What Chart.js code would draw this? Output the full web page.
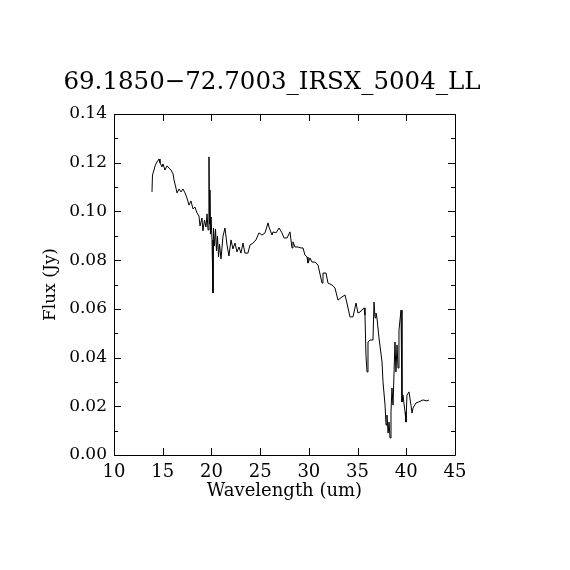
<!DOCTYPE html>
<html lang="en">
<head>
<meta charset="UTF-8">
<title>69.1850-72.7003_IRSX_5004_LL</title>
<script src="https://cdn.jsdelivr.net/npm/chart.js"></script>
<style>
  html, body { margin: 0; padding: 0; background: #fff; }
  #wrap { width: 570px; height: 570px; }
</style>
</head>
<body>
<div id="wrap"><canvas id="spec" width="570" height="570"></canvas></div>
<script>
// spectrum
var wavelength = [
  13.90, 13.95, 14.11, 14.21, 14.41, 14.62, 14.72, 14.93, 15.03, 15.23,
  15.44, 15.65, 15.85, 16.06, 16.16, 16.36, 16.47, 16.67, 16.88, 17.08,
  17.29, 17.49, 17.70, 17.90, 18.11, 18.31, 18.52, 18.72, 18.83, 19.03,
  19.13, 19.29, 19.44, 19.55, 19.65, 19.75, 19.80, 19.85, 19.90, 19.96,
  20.06, 20.16, 20.21, 20.31, 20.42, 20.52, 20.62, 20.73, 20.83, 20.98,
  21.19, 21.39, 21.60, 21.80, 22.01, 22.21, 22.42, 22.62, 22.83, 23.03,
  23.24, 23.44, 23.75, 23.96, 24.27, 24.57, 24.88, 25.19, 25.50, 25.81,
  25.91, 26.22, 26.32, 26.63, 26.94, 27.24, 27.45, 27.76, 28.06, 28.27,
  28.37, 28.58, 28.89, 29.19, 29.40, 29.60, 29.81, 29.91, 30.12, 30.32,
  30.63, 30.94, 31.35, 31.45, 31.76, 31.96, 32.37, 32.68, 32.99, 33.40,
  33.71, 33.91, 34.22, 34.53, 34.84, 35.04, 35.25, 35.66, 35.76, 35.86,
  35.97, 36.07, 36.28, 36.58, 36.69, 36.79, 36.89, 36.99, 37.20, 37.51,
  37.61, 37.82, 37.92, 38.02, 38.13, 38.23, 38.33, 38.43, 38.53, 38.64,
  38.84, 38.94, 39.05, 39.15, 39.25, 39.46, 39.56, 39.66, 39.87, 39.97,
  40.07, 40.28, 40.48, 40.59, 40.69, 41.00, 41.30, 41.71, 42.12, 42.33
];
var flux = [
  0.1080, 0.1150, 0.1170, 0.1187, 0.1203, 0.1215, 0.1199, 0.1183, 0.1195, 0.1170,
  0.1187, 0.1178, 0.1170, 0.1154, 0.1129, 0.1096, 0.1076, 0.1092, 0.1080, 0.1092,
  0.1076, 0.1055, 0.1026, 0.1043, 0.1010, 0.1018, 0.0994, 0.0981, 0.0940, 0.0973,
  0.0920, 0.0965, 0.0936, 0.0990, 0.0924, 0.1224, 0.0949, 0.1088, 0.0907, 0.0977,
  0.0883, 0.0665, 0.0932, 0.0858, 0.0928, 0.0838, 0.0899, 0.0813, 0.0866, 0.0805,
  0.0899, 0.0932, 0.0862, 0.0817, 0.0883, 0.0846, 0.0870, 0.0834, 0.0854, 0.0829,
  0.0870, 0.0829, 0.0829, 0.0862, 0.0870, 0.0883, 0.0912, 0.0903, 0.0912, 0.0953,
  0.0936, 0.0903, 0.0916, 0.0912, 0.0932, 0.0912, 0.0891, 0.0891, 0.0916, 0.0850,
  0.0875, 0.0854, 0.0854, 0.0850, 0.0850, 0.0821, 0.0813, 0.0788, 0.0809, 0.0792,
  0.0792, 0.0780, 0.0706, 0.0747, 0.0747, 0.0706, 0.0698, 0.0686, 0.0636, 0.0649,
  0.0657, 0.0624, 0.0567, 0.0567, 0.0624, 0.0583, 0.0587, 0.0604, 0.0575, 0.0411,
  0.0341, 0.0464, 0.0472, 0.0472, 0.0628, 0.0563, 0.0583, 0.0563, 0.0480, 0.0382,
  0.0300, 0.0205, 0.0123, 0.0164, 0.0090, 0.0135, 0.0070, 0.0177, 0.0275, 0.0205,
  0.0464, 0.0341, 0.0452, 0.0357, 0.0513, 0.0595, 0.0218, 0.0246, 0.0177, 0.0135,
  0.0246, 0.0259, 0.0205, 0.0172, 0.0193, 0.0214, 0.0218, 0.0226, 0.0222, 0.0226
];
var xTicks = [10, 15, 20, 25, 30, 35, 40, 45];
var yTicks = [0.00, 0.02, 0.04, 0.06, 0.08, 0.10, 0.12, 0.14];
var yMinor = [0.01, 0.03, 0.05, 0.07, 0.09, 0.11, 0.13];
var titleText = '69.1850\u221272.7003_IRSX_5004_LL';

var serif = 'DejaVu Serif';

// title sits centred on the page, not over the plot box
var pageTitle = {
  id: 'pageTitle',
  afterDraw: function (chart) {
    var c = chart.ctx;
    c.save();
    c.fillStyle = '#000';
    c.font = '24.5px "' + serif + '"';
    c.textAlign = 'center';
    c.textBaseline = 'middle';
    c.fillText(titleText, 272, 83);
    c.restore();
  }
};

// frame + inward tick marks on all four sides
var frameTicks = {
  id: 'frameTicks',
  afterDraw: function (chart) {
    var c = chart.ctx, a = chart.chartArea;
    var xs = chart.scales.x, ys = chart.scales.y;
    c.save();
    c.strokeStyle = '#000';
    c.lineWidth = 1;
    c.beginPath();
    c.rect(Math.round(a.left) + 0.5, Math.round(a.top) + 0.5,
           Math.round(a.right - a.left), Math.round(a.bottom - a.top));
    xTicks.forEach(function (v) {
      var px = Math.round(xs.getPixelForValue(v)) + 0.5;
      c.moveTo(px, a.bottom); c.lineTo(px, a.bottom - 7);
      c.moveTo(px, a.top); c.lineTo(px, a.top + 7);
    });
    yTicks.forEach(function (v) {
      var py = Math.round(ys.getPixelForValue(v)) + 0.5;
      c.moveTo(a.left, py); c.lineTo(a.left + 7, py);
      c.moveTo(a.right, py); c.lineTo(a.right - 7, py);
    });
    yMinor.forEach(function (v) {
      var py = Math.round(ys.getPixelForValue(v)) + 0.5;
      c.moveTo(a.left, py); c.lineTo(a.left + 4, py);
      c.moveTo(a.right, py); c.lineTo(a.right - 4, py);
    });
    c.stroke();
    c.restore();
  }
};

var ctx = document.getElementById('spec').getContext('2d');
var specChart = new Chart(ctx, {
  type: 'scatter',
  data: {
    datasets: [{
      data: wavelength.map(function (w, i) { return { x: w, y: flux[i] }; }),
      showLine: true,
      borderColor: '#000',
      borderWidth: 1,
      pointRadius: 0,
      tension: 0
    }]
  },
  options: {
    responsive: false,
    animation: false,
    devicePixelRatio: 1,
    layout: { padding: { left: 0, right: 115, top: 114, bottom: 0 } },
    plugins: {
      legend: { display: false },
      tooltip: { enabled: false },
      title: { display: false }
    },
    scales: {
      x: {
        type: 'linear',
        min: 10, max: 45,
        afterFit: function (s) { s.height = 115; },
        afterBuildTicks: function (s) { s.ticks = xTicks.map(function (v) { return { value: v }; }); },
        grid: { display: false, drawTicks: false },
        border: { display: false },
        ticks: {
          color: '#000',
          padding: 7,
          maxRotation: 0,
          autoSkip: false,
          font: { family: serif, size: 18 },
          callback: function (v) { return String(v); }
        },
        title: {
          display: true,
          text: 'Wavelength (um)',
          color: '#000',
          font: { family: serif, size: 18 },
          padding: { top: 0, bottom: 68 }
        }
      },
      y: {
        type: 'linear',
        min: 0, max: 0.14,
        afterFit: function (s) { s.width = 114; },
        afterBuildTicks: function (s) { s.ticks = yTicks.map(function (v) { return { value: v }; }); },
        grid: { display: false, drawTicks: false },
        border: { display: false },
        ticks: {
          color: '#000',
          padding: 7,
          autoSkip: false,
          font: { family: serif, size: 17 },
          callback: function (v) { return Number(v).toFixed(2); }
        },
        title: {
          display: true,
          text: 'Flux (Jy)',
          color: '#000',
          font: { family: serif, size: 17 },
          padding: { top: 40, bottom: 0 }
        }
      }
    }
  },
  plugins: [frameTicks, pageTitle]
});
</script>
</body>
</html>
